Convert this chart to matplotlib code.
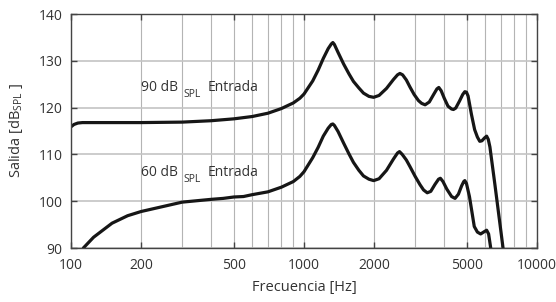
import matplotlib
matplotlib.use("Agg")
import matplotlib.pyplot as plt
from matplotlib.ticker import FixedLocator, NullFormatter, NullLocator
from matplotlib.transforms import offset_copy


# 90 dB SPL input curve (frequency in Hz, output in dB SPL)
freq_90 = [100, 103, 107, 112, 150, 200, 300, 400, 500, 600, 700, 800, 900,
           960, 1000, 1090, 1150, 1210, 1270, 1310, 1330, 1350, 1400, 1480,
           1560, 1630, 1720, 1800, 1900, 1990, 2100, 2260, 2420, 2520, 2580,
           2650, 2750, 2850, 2970, 3100, 3200, 3310, 3450, 3600, 3720, 3790,
           3880, 4000, 4150, 4300, 4380, 4480, 4650, 4800, 4900, 4980, 5060,
           5130, 5230, 5400, 5550, 5680, 5800, 5950, 6080, 6180, 6280, 6600,
           6900, 7150]
out_90 = [115.9, 116.4, 116.7, 116.8, 116.8, 116.8, 116.9, 117.2, 117.6, 118.1,
          118.8, 119.8, 121.0, 122.0, 122.9, 125.7, 128.0, 130.5, 132.6, 133.6,
          133.9, 133.5, 131.8, 129.3, 127.2, 125.6, 124.2, 123.1, 122.4, 122.2,
          122.6, 124.1, 126.0, 127.0, 127.3, 127.0, 125.9, 124.4, 122.8, 121.5,
          120.9, 120.6, 121.2, 122.8, 124.0, 124.3, 123.6, 122.0, 120.3, 119.7,
          119.6, 119.9, 121.4, 122.8, 123.4, 123.3, 122.5, 120.9, 118.6, 115.3,
          113.7, 112.8, 112.9, 113.5, 113.9, 113.2, 111.6, 103.5, 96.0, 90.0]

# 60 dB SPL input curve
freq_60 = [113, 125, 150, 175, 200, 250, 300, 400, 450, 500, 550, 600, 700,
           800, 900, 960, 1000, 1090, 1150, 1210, 1270, 1310, 1330, 1350,
           1400, 1480, 1560, 1630, 1720, 1800, 1900, 1990, 2100, 2260, 2420,
           2520, 2570, 2640, 2750, 2850, 3000, 3150, 3260, 3380, 3500, 3650,
           3780, 3850, 3950, 4100, 4300, 4450, 4600, 4750, 4850, 4900, 4980,
           5130, 5250, 5380, 5550, 5730, 5900, 6080, 6200, 6330]
out_60 = [90.0, 92.3, 95.3, 96.9, 97.8, 98.9, 99.8, 100.4, 100.6, 100.9, 101.0,
          101.4, 102.0, 103.0, 104.2, 105.3, 106.3, 109.3, 111.5, 113.9, 115.6,
          116.4, 116.5, 116.2, 114.9, 112.4, 110.1, 108.3, 106.6, 105.4, 104.7,
          104.4, 104.8, 106.6, 109.0, 110.3, 110.6, 110.0, 108.8, 107.4, 105.3,
          103.5, 102.4, 101.8, 102.1, 103.6, 104.7, 104.9, 104.2, 102.6, 101.0,
          100.6, 101.5, 103.3, 104.2, 104.4, 103.8, 101.0, 97.9, 94.6, 93.4,
          93.0, 93.4, 93.8, 93.0, 90.0]

x_ticks = [100, 200, 500, 1000, 2000, 5000, 10000]
x_grid = [100, 200, 300, 400, 500, 600, 700, 800, 900,
          1000, 2000, 3000, 4000, 5000, 6000, 7000, 8000, 9000, 10000]
y_ticks = [90, 100, 110, 120, 130, 140]

# curve labels: baseline start of each "xx dB SPL Entrada" label
label_pos = [(200, 123.6), (200, 105.4)]
label_main = ["90 dB", "60 dB"]


plt.rcParams["font.family"] = ["Open Sans", "DejaVu Sans"]
plt.rcParams["mathtext.fontset"] = "custom"
plt.rcParams["mathtext.rm"] = "Open Sans"

text_color = "#333333"

fig = plt.figure(figsize=(5.56, 3.02), dpi=100)
ax = fig.add_axes([0.1277, 0.1788, 0.8381, 0.7748])

ax.set_xscale("log")
ax.set_xlim(100, 10000)
ax.set_ylim(90, 140)

for f in x_grid:
    ax.axvline(f, color="#b4b4b4", lw=0.8, zorder=1)
for v in y_ticks:
    ax.axhline(v, color="#c4c4c4", lw=1.2, zorder=1)

ax.plot(freq_90, out_90, color="#161616", lw=2.3, zorder=3,
        solid_joinstyle="round", solid_capstyle="round")
ax.plot(freq_60, out_60, color="#161616", lw=2.3, zorder=3,
        solid_joinstyle="round", solid_capstyle="round")

ax.xaxis.set_major_locator(FixedLocator(x_ticks))
ax.xaxis.set_minor_locator(NullLocator())
ax.xaxis.set_minor_formatter(NullFormatter())
ax.set_xticklabels([str(t) for t in x_ticks])
ax.set_yticks(y_ticks)

ax.tick_params(axis="both", direction="in", length=4, width=1,
               colors="#444444", labelcolor=text_color, labelsize=10,
               top=True, right=True)
ax.tick_params(axis="x", pad=7)
ax.tick_params(axis="y", pad=6)

for side in ax.spines.values():
    side.set_color("#444444")
    side.set_linewidth(1.0)
    side.set_zorder(4)

for (lx, ly), main in zip(label_pos, label_main):
    ax.text(lx, ly, main, fontsize=10, color=text_color,
            va="baseline", ha="left", zorder=5)
    sub_tr = offset_copy(ax.transData, fig=fig, x=42, y=-6, units="dots")
    ax.text(lx, ly, "SPL", fontsize=7.5, color=text_color,
            va="baseline", ha="left", zorder=5, transform=sub_tr)
    end_tr = offset_copy(ax.transData, fig=fig, x=66, y=0, units="dots")
    ax.text(lx, ly, "Entrada", fontsize=10, color=text_color,
            va="baseline", ha="left", zorder=5, transform=end_tr)

ax.set_xlabel("Frecuencia [Hz]", fontsize=10.5, color=text_color, labelpad=5)
ax.set_ylabel(r"Salida [dB$_{\mathregular{SPL}}$ ]", fontsize=10.5,
              color=text_color, labelpad=10)

fig.savefig("out.png", dpi=100)
